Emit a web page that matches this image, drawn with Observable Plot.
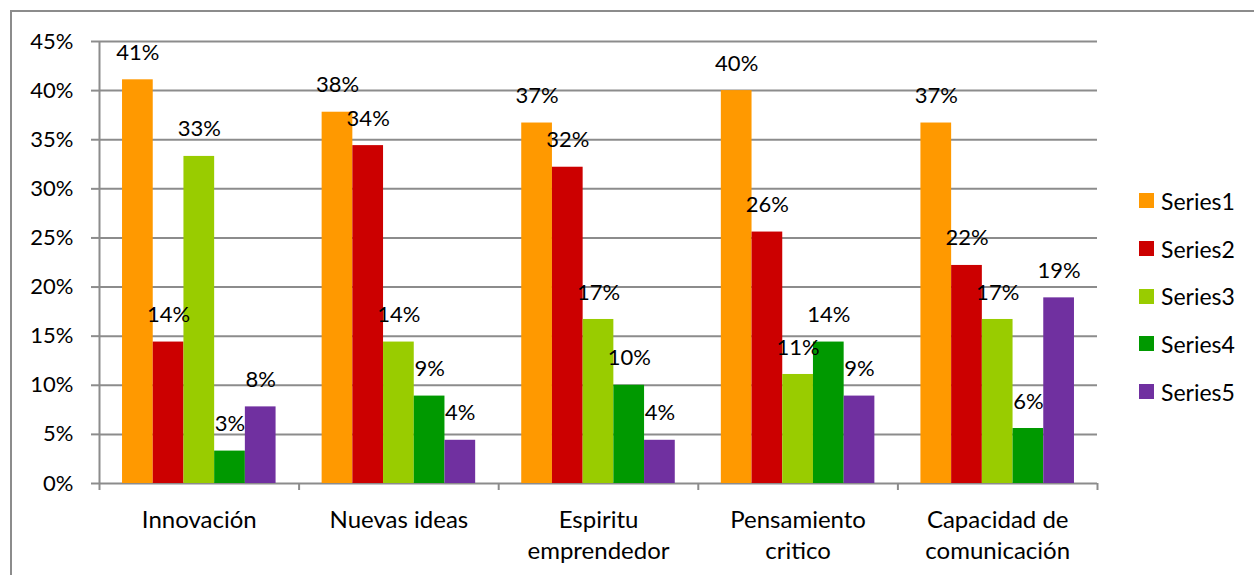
<!DOCTYPE html>
<html><head><meta charset="utf-8">
<script src="https://cdn.jsdelivr.net/npm/d3@7"></script>
<script src="https://cdn.jsdelivr.net/npm/@observablehq/plot@0.6"></script>
<style>
body{margin:0;background:#fff;overflow:hidden;}
#wrap{position:relative;width:1254px;height:575px;overflow:hidden;background:#fff;}
#border{position:absolute;left:10px;top:10px;width:1400px;height:700px;border:2px solid #8c8c8c;box-sizing:border-box}
#chart{position:absolute;left:0;top:0}
#legend{position:absolute;left:1139px;top:177px;font-family:Lato;font-size:23px;color:#000}
.item{display:flex;align-items:center;height:47.7px}
.sw{width:15px;height:15px;margin-right:7px;flex:none}
</style></head><body>
<div id="wrap"><div id="border"></div><div id="chart"></div><div id="legend"></div></div>
<script>
const categories = ["Innovación","Nuevas ideas","Espiritu emprendedor","Pensamiento critico","Capacidad de comunicación"];
const tickLabels = ["Innovación","Nuevas ideas","Espiritu\nemprendedor","Pensamiento\ncritico","Capacidad de\ncomunicación"];
const seriesNames = ["Series1","Series2","Series3","Series4","Series5"];
const series1 = [0.411, 0.378, 0.367, 0.400, 0.367];
const series2 = [0.144, 0.344, 0.322, 0.256, 0.222];
const series3 = [0.333, 0.144, 0.167, 0.111, 0.167];
const series4 = [0.033, 0.089, 0.100, 0.144, 0.056];
const series5 = [0.078, 0.044, 0.044, 0.089, 0.189];
const colors = ["#FF9900","#CC0000","#99CC00","#009900","#7030A0"];
const yTicks = [0,0.05,0.10,0.15,0.20,0.25,0.30,0.35,0.40,0.45];

const gapWidth = 1.5; // Excel-style gap width (150%)
const barW = 1/(seriesNames.length + gapWidth);
const rows = [];
[series1,series2,series3,series4,series5].forEach((vals, s) => vals.forEach((v, i) => {
  const x1 = i + barW*gapWidth/2 + s*barW;
  rows.push({category: categories[i], series: seriesNames[s], value: v, x1, x2: x1 + barW});
}));
const pct = d3.format(".0%");
const gridColor = "#8c8c8c";

const chart = Plot.plot({
  width: 1254, height: 575,
  marginLeft: 99, marginRight: 157, marginTop: 41, marginBottom: 92,
  style: {fontFamily: "Lato", fontSize: "22px", color: "#000", background: "transparent", overflow: "visible"},
  x: {domain: [0, categories.length]},
  y: {domain: [0, 0.45]},
  color: {domain: seriesNames, range: colors},
  marks: [
    Plot.ruleY(yTicks, {stroke: gridColor, strokeWidth: 2}),
    Plot.ruleX([0], {stroke: gridColor, strokeWidth: 2}),
    Plot.rectY(rows, {x1: "x1", x2: "x2", y1: 0, y2: "value", fill: "series"}),
    Plot.axisY({ticks: yTicks, tickFormat: pct, tickSize: 8, tickPadding: 18, stroke: gridColor, strokeWidth: 2, fontSize: 22, label: null}),
    Plot.axisX({ticks: d3.range(categories.length + 1), tickFormat: () => "", tickSize: 7, stroke: gridColor, strokeWidth: 2, label: null}),
    Plot.axisX({ticks: d3.range(categories.length).map(i => i + 0.5), tickFormat: t => tickLabels[Math.floor(t)], tickSize: 0, tickPadding: 22, fontSize: 24, lineHeight: 1.3, label: null}),
    Plot.text(rows, {x: d => (d.x1 + d.x2)/2, y: "value", text: d => pct(d.value), dy: -27, fill: "#000", fontSize: 22})
  ]
});
document.getElementById("chart").appendChild(chart);

const legend = document.getElementById("legend");
seriesNames.forEach((name, i) => {
  const item = document.createElement("div");
  item.className = "item";
  item.innerHTML = `<div class="sw" style="background:${colors[i]}"></div><span>${name}</span>`;
  legend.appendChild(item);
});
</script>
</body></html>
